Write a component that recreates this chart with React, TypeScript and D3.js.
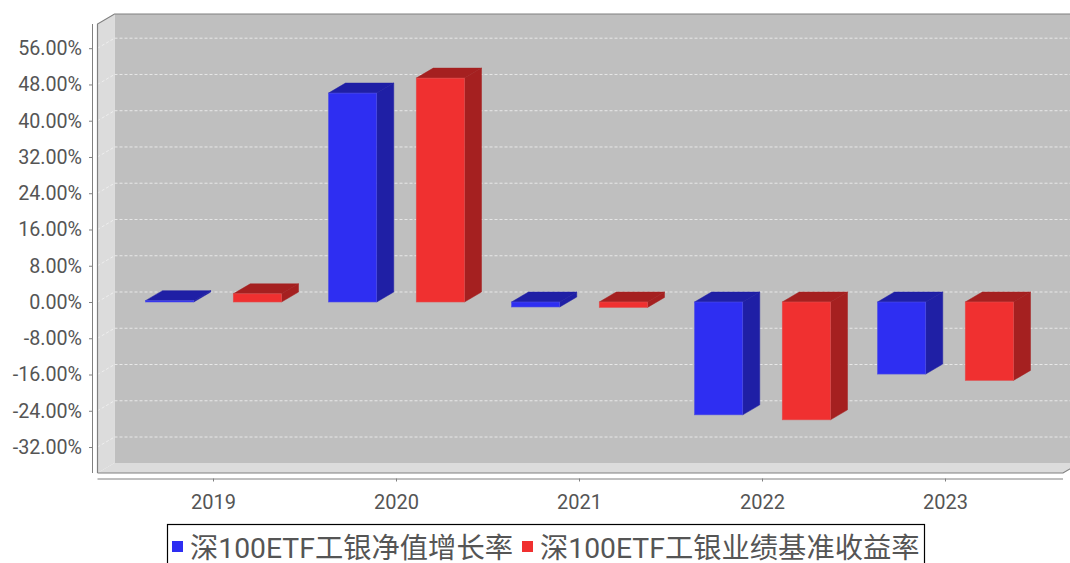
import * as d3 from "d3";
import { useEffect, useRef } from "react";

const years = ["2019", "2020", "2021", "2022", "2023"];
const seriesNames = ["深100ETF工银净值增长率", "深100ETF工银业绩基准收益率"];
const navGrowth = [0.3, 46.1, -1.1, -24.9, -15.9];
const benchmark = [1.8, 49.4, -1.2, -26.0, -17.3];
const yTicks = [56, 48, 40, 32, 24, 16, 8, 0, -8, -16, -24, -32];

const frontColors = ["#2e2ef2", "#f03030"];
const darkColors = ["#1f1fa5", "#a52020"];
const edgeColors = ["#5050e0", "#e05050"];

const App = () => {
	const svgRef = useRef<SVGSVGElement>(null);

	useEffect(() => {
		if (!svgRef.current) return;

		const width = 1070;
		const height = 563;
		const font = "Roboto, 'Noto Sans CJK SC', sans-serif";

		// plot box (front plane), the 3d depth goes up and to the right
		const depthX = 17;
		const depthY = -10;
		const plot = { left: 97.5, right: 1063, top: 24, bottom: 473 };

		const svg = d3
			.select(svgRef.current)
			.attr("width", width)
			.attr("height", height)
			.style("position", "absolute")
			.style("left", 0)
			.style("top", 0)
			.style("background-color", "#fff");

		svg.selectAll("*").remove();

		const x = d3.scaleBand().domain(years).range([122, 1037]);
		const xSeries = d3
			.scaleBand()
			.domain(seriesNames)
			.range([0, 136])
			.paddingInner(0.45);
		const y = d3.scaleLinear().domain([0, 56]).range([302, 48.2]);

		// back wall
		svg
			.append("rect")
			.attr("x", plot.left + depthX)
			.attr("y", plot.top + depthY)
			.attr("width", width)
			.attr("height", plot.bottom - plot.top)
			.attr("fill", "#bfbfbf");

		// left wall
		svg
			.append("path")
			.attr(
				"d",
				`M${plot.left},${plot.top}L${plot.left + depthX},${plot.top + depthY}V${plot.bottom + depthY}L${plot.left},${plot.bottom}Z`
			)
			.attr("fill", "#dcdcdc");

		// floor
		svg
			.append("path")
			.attr(
				"d",
				`M${plot.left},${plot.bottom}L${plot.left + depthX},${plot.bottom + depthY}H${plot.right + depthX}L${plot.right},${plot.bottom}Z`
			)
			.attr("fill", "#dcdcdc");

		// grid lines on back wall and left wall
		const grid = svg.append("g");
		yTicks.forEach((t) => {
			grid
				.append("line")
				.attr("x1", plot.left + depthX)
				.attr("x2", width)
				.attr("y1", y(t) + depthY)
				.attr("y2", y(t) + depthY)
				.attr("stroke", "#e8e8e8")
				.attr("stroke-width", 1)
				.attr("stroke-dasharray", "3,2");
			grid
				.append("line")
				.attr("x1", plot.left)
				.attr("x2", plot.left + depthX)
				.attr("y1", y(t))
				.attr("y2", y(t) + depthY)
				.attr("stroke", "#eeeeee")
				.attr("stroke-width", 1)
				.attr("stroke-dasharray", "3,2");
		});

		// plot outline
		svg
			.append("path")
			.attr(
				"d",
				`M${plot.left},${plot.bottom}V${plot.top}L${plot.left + depthX},${plot.top + depthY}H${width}`
			)
			.attr("fill", "none")
			.attr("stroke", "#808080")
			.attr("stroke-width", 1.2);
		svg
			.append("path")
			.attr(
				"d",
				`M${plot.left},${plot.bottom}H${plot.right}L${plot.right + depthX},${plot.bottom + depthY}`
			)
			.attr("fill", "none")
			.attr("stroke", "#808080")
			.attr("stroke-width", 1.2);

		// bars
		[navGrowth, benchmark].forEach((values, s) => {
			const g = svg.append("g");
			values.forEach((v, i) => {
				const bw = xSeries.bandwidth();
				const center = (x(years[i]) ?? 0) + x.bandwidth() / 2;
				const x0 = center - 68 + (xSeries(seriesNames[s]) ?? 0);
				const top = y(Math.max(v, 0));
				const bottom = y(Math.min(v, 0));

				g.append("path")
					.attr(
						"d",
						`M${x0},${top}l${depthX},${depthY}h${bw}l${-depthX},${-depthY}Z`
					)
					.attr("fill", darkColors[s])
					.attr("stroke", darkColors[s])
					.attr("stroke-width", 0.5);
				g.append("path")
					.attr(
						"d",
						`M${x0 + bw},${top}l${depthX},${depthY}V${bottom + depthY}L${x0 + bw},${bottom}Z`
					)
					.attr("fill", darkColors[s])
					.attr("stroke", darkColors[s])
					.attr("stroke-width", 0.5);
				g.append("rect")
					.attr("x", x0)
					.attr("y", top)
					.attr("width", bw)
					.attr("height", bottom - top)
					.attr("fill", frontColors[s])
					.attr("stroke", edgeColors[s])
					.attr("stroke-width", 0.6);
			});
		});

		// y axis
		const yAxis = svg
			.append("g")
			.attr("transform", "translate(92,0)")
			.call(
				d3
					.axisLeft(y)
					.tickValues(yTicks)
					.tickSize(3)
					.tickSizeOuter(0)
					.tickPadding(7)
					.tickFormat((d) => `${(+d).toFixed(2)}%`)
			);
		yAxis
			.select(".domain")
			.attr("d", `M0.5,${plot.top}V${plot.bottom}`)
			.attr("stroke", "#808080");
		yAxis.selectAll(".tick line").attr("stroke", "#808080");
		yAxis
			.selectAll(".tick text")
			.attr("font-family", font)
			.attr("font-size", "19.7px")
			.attr("fill", "#555555");

		// x axis
		const xAxis = svg
			.append("g")
			.attr("transform", "translate(0,478.5)")
			.call(d3.axisBottom(x).tickSize(3).tickSizeOuter(0).tickPadding(13));
		xAxis
			.select(".domain")
			.attr("d", `M${plot.left},0.5H${plot.right}`)
			.attr("stroke", "#808080");
		xAxis.selectAll(".tick line").attr("stroke", "#808080");
		xAxis
			.selectAll(".tick text")
			.attr("font-family", font)
			.attr("font-size", "20px")
			.attr("fill", "#555555");

		// legend
		const legend = svg.append("g");
		legend
			.append("rect")
			.attr("x", 167.5)
			.attr("y", 524.5)
			.attr("width", 757)
			.attr("height", 50)
			.attr("fill", "#fff")
			.attr("stroke", "#000")
			.attr("stroke-width", 1.2);

		[172, 522].forEach((lx, i) => {
			legend
				.append("rect")
				.attr("x", lx)
				.attr("y", 541)
				.attr("width", 11)
				.attr("height", 11)
				.attr("fill", frontColors[i]);
			legend
				.append("text")
				.attr("x", lx + 18)
				.attr("y", 558)
				.attr("font-family", font)
				.attr("font-size", "28.3px")
				.attr("fill", "#555555")
				.text(seriesNames[i]);
		});
	}, []);

	return <svg ref={svgRef}></svg>;
};

export default App;
